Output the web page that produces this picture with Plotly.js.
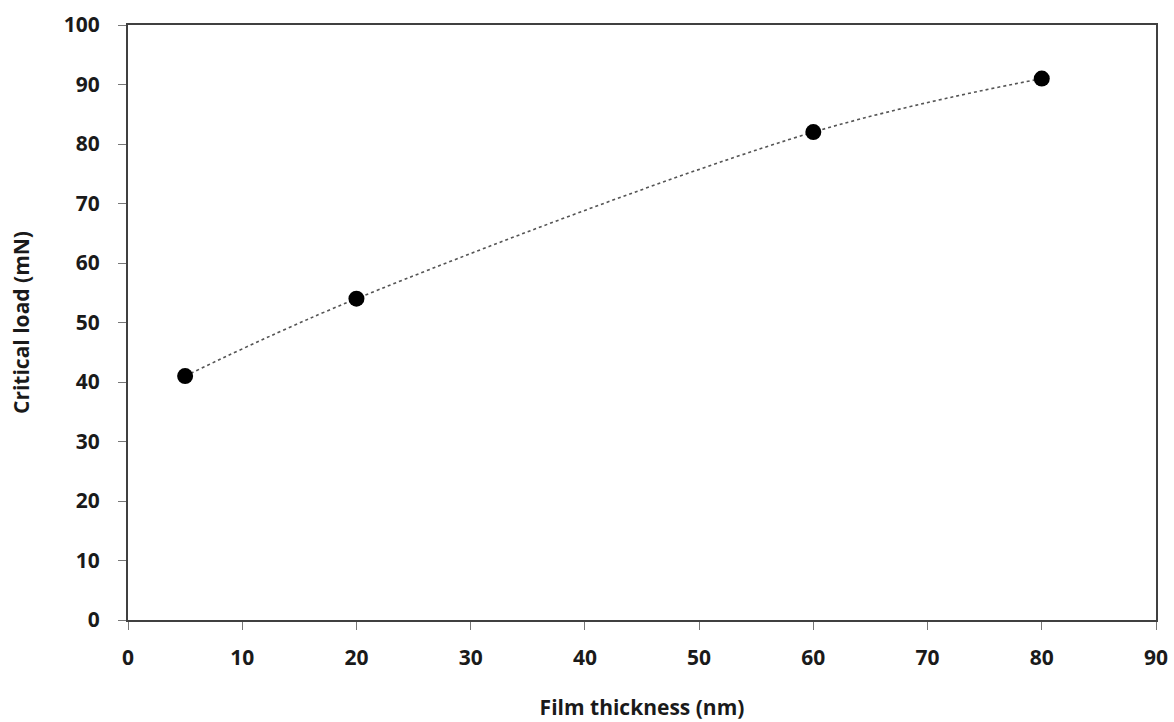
<!DOCTYPE html>
<html>
<head>
<meta charset="utf-8">
<script src="https://cdn.plot.ly/plotly-3.0.1.min.js"></script>
<style>
  html, body { margin: 0; padding: 0; background: #fff; }
  #chart { width: 1174px; height: 722px; }
</style>
</head>
<body>
<div id="chart"></div>
<script>
// Critical load measured for each film thickness
const thickness = [5, 20, 60, 80];          // nm
const criticalLoad = [41, 54, 82, 91];      // mN

const xTicks = [0, 10, 20, 30, 40, 50, 60, 70, 80, 90];
const yTicks = [0, 10, 20, 30, 40, 50, 60, 70, 80, 90, 100];

const font = { family: '"Open Sans", "Noto Sans", sans-serif', color: '#1a1a1a' };
const boldFont = Object.assign({}, font, { size: 21, weight: 'bold' });

const trace = {
  x: thickness,
  y: criticalLoad,
  type: 'scatter',
  mode: 'lines+markers',
  line: { shape: 'spline', smoothing: 1, dash: 'dot', color: '#555', width: 1.6 },
  marker: { symbol: 'circle', size: 16, color: '#000' },
  hoverinfo: 'x+y'
};

const axisCommon = {
  showline: true,
  linecolor: '#404040',
  linewidth: 2,
  mirror: true,
  showgrid: false,
  zeroline: false,
  ticks: 'outside',
  ticklen: 8,
  tickwidth: 1,
  tickcolor: '#777',
  tickfont: boldFont
};

const layout = {
  width: 1174,
  height: 722,
  margin: { l: 128, r: 18, t: 25, b: 102 },
  paper_bgcolor: '#fff',
  plot_bgcolor: '#fff',
  showlegend: false,
  font: font,
  xaxis: Object.assign({}, axisCommon, {
    range: [0, 90],
    tickvals: xTicks,
    ticktext: xTicks.map(String),
    ticklabelstandoff: 10,
    title: { text: 'Film thickness (nm)', font: boldFont, standoff: 30 }
  }),
  yaxis: Object.assign({}, axisCommon, {
    range: [0, 100],
    tickvals: yTicks,
    ticktext: yTicks.map(String),
    ticklabelstandoff: 14,
    title: { text: 'Critical load (mN)', font: boldFont, standoff: 28 }
  })
};

Plotly.newPlot('chart', [trace], layout, { displayModeBar: false, staticPlot: true });
</script>
</body>
</html>
